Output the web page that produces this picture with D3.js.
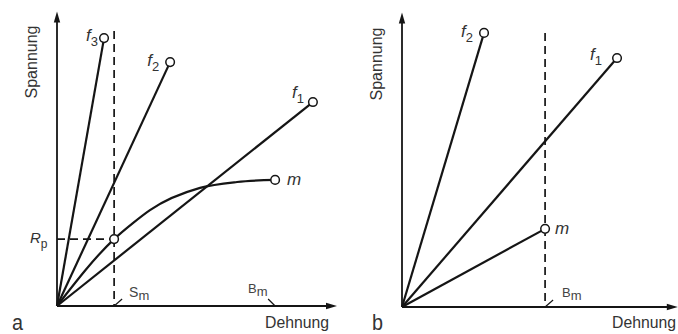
<!DOCTYPE html>
<html>
<head>
<meta charset="utf-8">
<script src="https://cdn.jsdelivr.net/npm/d3@7"></script>
<style>
  html, body { margin: 0; padding: 0; background: #fff; }
  svg { display: block; }
  text, tspan { font-family: "Liberation Sans", Arial, Helvetica, sans-serif; }
</style>
</head>
<body>
<svg id="chart" width="678" height="334"></svg>
<script>
// ---------- DATA (strain / stress in relative units 0..100) ----------
// Panel a: fibres f3, f2, f1 (linear to fracture) and matrix m (curved)
const fibresA = ["3", "2", "1"];
const fibresAStrain = [16.8, 40.4, 91.4];
const fibresAStress = [90.5, 82.4, 68.9];
const matrixAStrain = [0, 20.4, 27.1, 33.2, 51.1, 64.3, 77.9];
const matrixAStress = [0, 22.6, 28.0, 32.4, 39.9, 41.9, 42.6];
const rpA = 22.6;      // yield stress R_p
const smA = 20.4;      // strain S_m
const bmA = 77.9;      // strain B_m
const dashTopA = 92.9;

// Panel b: fibres f2, f1 and matrix m (all linear)
const fibresB = ["2", "1"];
const fibresBStrain = [29.3, 76.8];
const fibresBStress = [92.6, 84.1];
const matrixBStrain = [0, 51.1];
const matrixBStress = [0, 26.4];
const bmB = 51.1;
const dashTopB = 92.6;

// ---------- DRAWING ----------
const svg = d3.select("#chart");
const INK = "#151515";
const TXT = "#333333";

function arrowHead(g, x, y, dir) {
  const L = 11, W = 3.2;
  let pts;
  if (dir === "up") pts = [[x, y], [x - W, y + L], [x + W, y + L]];
  else pts = [[x, y], [x - L, y - W], [x - L, y + W]];
  g.append("path").attr("d", d3.line()(pts) + "Z").attr("fill", INK);
}

function subLabel(g, x, y, main, sub, opts) {
  const fill = opts.fill || TXT;
  const t = g.append("text")
    .attr("x", x).attr("y", y)
    .attr("text-anchor", opts.anchor || "start")
    .attr("font-size", opts.size)
    .attr("font-style", opts.italic ? "italic" : "normal")
    .attr("fill", fill);
  t.append("tspan").attr("fill", fill).text(main);
  t.append("tspan").attr("fill", fill).attr("font-size", opts.subSize).attr("font-style", "normal")
    .attr("dy", opts.subDy).text(sub);
  return t;
}

function panel(cfg) {
  const g = svg.append("g");
  const x = d3.scaleLinear().domain([0, 100]).range([cfg.x0, cfg.x0 + 280]);
  const y = d3.scaleLinear().domain([0, 100]).range([cfg.y0, cfg.y0 - 296]);

  // axes
  g.append("line").attr("x1", x(0)).attr("x2", x(0))
    .attr("y1", y(0)).attr("y2", y(99.5) + 8)
    .attr("stroke", INK).attr("stroke-width", 1.8);
  arrowHead(g, x(0), y(99.5), "up");
  g.append("line").attr("x1", x(0)).attr("x2", x(cfg.xMax) - 8)
    .attr("y1", y(0)).attr("y2", y(0))
    .attr("stroke", INK).attr("stroke-width", 1.8);
  arrowHead(g, x(cfg.xMax), y(0), "right");

  // axis titles
  g.append("text")
    .attr("transform", `translate(${x(0) - 20},${cfg.spanY}) rotate(-90)`)
    .attr("text-anchor", "middle").attr("font-size", 16).attr("fill", TXT)
    .attr("textLength", 73).attr("lengthAdjust", "spacingAndGlyphs")
    .text("Spannung");
  g.append("text")
    .attr("x", cfg.dehnX).attr("y", 328)
    .attr("font-size", 16).attr("fill", TXT)
    .attr("textLength", 64).attr("lengthAdjust", "spacingAndGlyphs")
    .text("Dehnung");
  g.append("text")
    .attr("x", cfg.letterX).attr("y", 330)
    .attr("font-size", 22).attr("fill", TXT)
    .attr("textLength", 11).attr("lengthAdjust", "spacingAndGlyphs")
    .text(cfg.letter);
  return { g, x, y };
}

// ===== Panel a =====
{
  const { g, x, y } = panel({ x0: 57, y0: 306, xMax: 100, spanY: 62, dehnX: 265, letterX: 12, letter: "a" });

  // dashed guides
  g.append("line").attr("x1", x(smA)).attr("x2", x(smA))
    .attr("y1", y(dashTopA)).attr("y2", y(0))
    .attr("stroke", INK).attr("stroke-width", 1.7).attr("stroke-dasharray", "8,5");
  g.append("line").attr("x1", x(0)).attr("x2", x(smA))
    .attr("y1", y(rpA)).attr("y2", y(rpA))
    .attr("stroke", INK).attr("stroke-width", 1.7).attr("stroke-dasharray", "8,5");

  // fibres
  const fibres = fibresA.map((n, i) => ({ n, sx: fibresAStrain[i], sy: fibresAStress[i] }));
  fibres.forEach(f => {
    g.append("line").attr("x1", x(0)).attr("y1", y(0))
      .attr("x2", x(f.sx)).attr("y2", y(f.sy))
      .attr("stroke", INK).attr("stroke-width", 2.2);
  });

  // matrix curve
  const mpts = matrixAStrain.map((s, i) => [s, matrixAStress[i]]);
  g.append("path").datum(mpts)
    .attr("d", d3.line().x(d => x(d[0])).y(d => y(d[1])).curve(d3.curveMonotoneX))
    .attr("fill", "none").attr("stroke", INK).attr("stroke-width", 2.2);

  // end circles
  const circ = fibres.map(f => [f.sx, f.sy]).concat([mpts[mpts.length - 1], [smA, rpA]]);
  circ.forEach(p => {
    g.append("circle").attr("cx", x(p[0])).attr("cy", y(p[1])).attr("r", 4.3)
      .attr("fill", "#fff").attr("stroke", INK).attr("stroke-width", 1.5);
  });

  // fibre labels
  const off = { "3": [-6, 3], "2": [-11, 4], "1": [-9, -4] };
  fibres.forEach(f => {
    subLabel(g, x(f.sx) + off[f.n][0], y(f.sy) + off[f.n][1], "f", f.n,
      { anchor: "end", size: 17, subSize: 13, subDy: 5, italic: true });
  });
  const mEnd = mpts[mpts.length - 1];
  g.append("text").attr("x", x(mEnd[0]) + 12).attr("y", y(mEnd[1]) + 5)
    .attr("font-size", 17).attr("font-style", "italic").attr("fill", TXT).text("m");

  // R_p
  subLabel(g, x(0) - 27, y(rpA) + 4, "R", "p",
    { anchor: "start", size: 15, subSize: 12, subDy: 5, italic: true });

  // S_m tick and label
  g.append("line").attr("x1", x(smA)).attr("y1", y(0))
    .attr("x2", x(smA) + 8).attr("y2", y(0) - 7)
    .attr("stroke", INK).attr("stroke-width", 1.2);
  subLabel(g, x(smA) + 15, y(0) - 9, "S", "m",
    { anchor: "start", size: 14, subSize: 13, subDy: 3, italic: false, fill: "#444444" });

  // B_m tick and label
  g.append("line").attr("x1", x(bmA)).attr("y1", y(0))
    .attr("x2", x(bmA) - 7).attr("y2", y(0) - 7)
    .attr("stroke", INK).attr("stroke-width", 1.2);
  subLabel(g, x(bmA) - 27, y(0) - 13, "B", "m",
    { anchor: "start", size: 13, subSize: 13, subDy: 3, italic: false, fill: "#444444" });
}

// ===== Panel b =====
{
  const { g, x, y } = panel({ x0: 402, y0: 307, xMax: 98.5, spanY: 64, dehnX: 612, letterX: 372, letter: "b" });

  g.append("line").attr("x1", x(bmB)).attr("x2", x(bmB))
    .attr("y1", y(dashTopB)).attr("y2", y(0))
    .attr("stroke", INK).attr("stroke-width", 1.7).attr("stroke-dasharray", "8,5");

  const fibres = fibresB.map((n, i) => ({ n, sx: fibresBStrain[i], sy: fibresBStress[i] }));
  fibres.forEach(f => {
    g.append("line").attr("x1", x(0)).attr("y1", y(0))
      .attr("x2", x(f.sx)).attr("y2", y(f.sy))
      .attr("stroke", INK).attr("stroke-width", 2.2);
  });
  const mEnd = [matrixBStrain[1], matrixBStress[1]];
  g.append("line").attr("x1", x(matrixBStrain[0])).attr("y1", y(matrixBStress[0]))
    .attr("x2", x(mEnd[0])).attr("y2", y(mEnd[1]))
    .attr("stroke", INK).attr("stroke-width", 2.2);

  fibres.map(f => [f.sx, f.sy]).concat([mEnd]).forEach(p => {
    g.append("circle").attr("cx", x(p[0])).attr("cy", y(p[1])).attr("r", 4.3)
      .attr("fill", "#fff").attr("stroke", INK).attr("stroke-width", 1.5);
  });

  const off = { "2": [-11, 4], "1": [-15, 2] };
  fibres.forEach(f => {
    subLabel(g, x(f.sx) + off[f.n][0], y(f.sy) + off[f.n][1], "f", f.n,
      { anchor: "end", size: 17, subSize: 13, subDy: 5, italic: true });
  });
  g.append("text").attr("x", x(mEnd[0]) + 10).attr("y", y(mEnd[1]) + 5)
    .attr("font-size", 17).attr("font-style", "italic").attr("fill", TXT).text("m");

  g.append("line").attr("x1", x(bmB)).attr("y1", y(0))
    .attr("x2", x(bmB) + 8).attr("y2", y(0) - 7)
    .attr("stroke", INK).attr("stroke-width", 1.2);
  subLabel(g, x(bmB) + 17, y(0) - 10, "B", "m",
    { anchor: "start", size: 13, subSize: 13, subDy: 3, italic: false, fill: "#444444" });
}
</script>
</body>
</html>
